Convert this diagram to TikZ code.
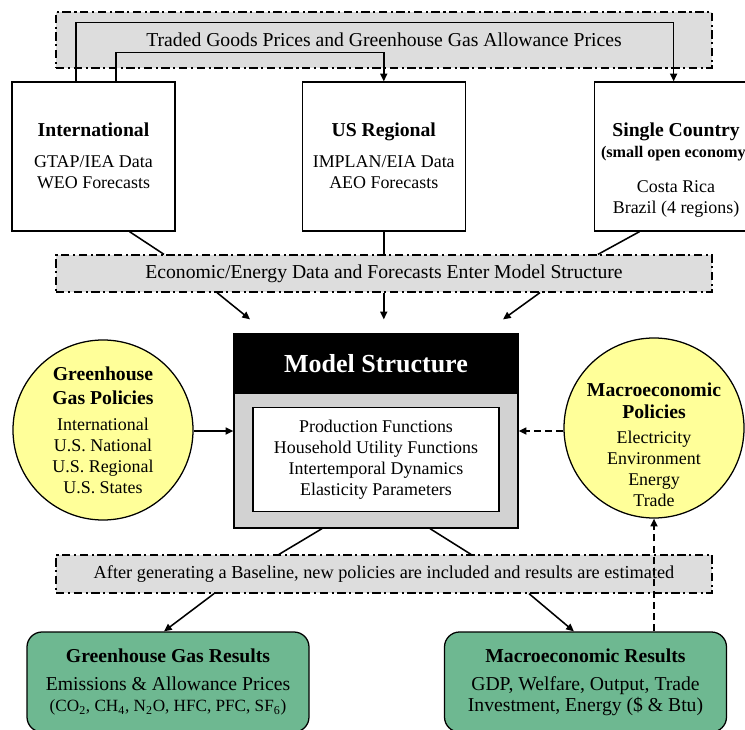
\documentclass[tikz,border=0pt]{standalone}
\usepackage{fontspec}
\setmainfont{Liberation Serif}
\usetikzlibrary{arrows.meta, positioning}

\definecolor{bandgray}{RGB}{221,221,221}
\definecolor{bodygray}{RGB}{210,210,210}
\definecolor{policyyellow}{RGB}{255,255,153}
\definecolor{resultgreen}{RGB}{110,184,145}

\newcommand{\hd}[1]{{\fontsize{14}{17}\selectfont\bfseries #1}}

\begin{document}
\begin{tikzpicture}[
        font=\fontsize{12.75}{15}\selectfont,
        band/.style={rectangle, draw, fill=bandgray, line width=0.9pt, dash pattern=on 6pt off 2.5pt on 1.5pt off 2.5pt, minimum width=16.4cm, align=center, font=\fontsize{14}{16}\selectfont},
        srcbox/.style={rectangle, draw, line width=0.9pt, fill=white, minimum width=4.075cm, minimum height=3.725cm},
        srctext/.style={align=center, inner sep=0pt},
        policy/.style={circle, draw, line width=0.9pt, fill=policyyellow, minimum size=4.5cm},
        polytext/.style={align=center, inner sep=0pt},
        resultbox/.style={rectangle, draw, rounded corners=0.375cm, line width=0.9pt, fill=resultgreen, minimum width=7.05cm, minimum height=2.5cm, align=center, font=\fontsize{14}{15}\selectfont},
        arrow/.style={-{Triangle[length=5.5pt,width=5pt]}, line width=1.1pt},
        link/.style={line width=1.1pt},
        dasharrow/.style={arrow, dash pattern=on 5pt off 3pt}
    ]

    \useasboundingbox (0,0) rectangle (18.625,-18.25);
    \clip (0,0) rectangle (18.625,-18.25);

    % Price band
    \node[band, minimum height=1.4cm] (prices) at (9.6,-1.0) {Traded Goods Prices and Greenhouse Gas Allowance Prices};

    % Data sources
    \node[srcbox] (intl) at (2.3375,-3.9125) {};
    \node[srcbox, right=3.15cm of intl] (usreg) {};
    \node[srcbox, right=3.2cm of usreg] (single) {};
    \node[srctext, below=1.025cm of intl.north] (intltext) {\hd{International}\\[7pt] GTAP/IEA Data\\ WEO Forecasts};
    \node[srctext, below=1.025cm of usreg.north] (usregtext) {\hd{US Regional}\\[7pt] IMPLAN/EIA Data\\ AEO Forecasts};
    \node[srctext, below=1.025cm of single.north] (singletext) {\hd{Single Country}\\ {\fontsize{11.5}{13}\selectfont\bfseries (small open economy)}\\[10pt] Costa Rica\\ Brazil (4 regions)};

    % Data band
    \node[band, minimum height=0.925cm] (enter) at (9.6,-6.8375) {Economic/Energy Data and Forecasts Enter Model Structure};

    % Model structure
    \node[rectangle, draw, line width=0.9pt, fill=bodygray, minimum width=7.1cm, minimum height=4.85cm] (model) at (9.4,-10.775) {};
    \node[rectangle, draw, fill=black, minimum width=7.1cm, minimum height=1.5cm, anchor=north, text=white, font=\fontsize{18.5}{22}\selectfont\bfseries] (header) at (model.north) {Model Structure};
    \node[rectangle, draw, fill=white, line width=0.9pt, minimum width=6.15cm, minimum height=2.6cm, below=0.325cm of header, align=center] (funcs) {Production Functions\\ Household Utility Functions\\ Intertemporal Dynamics\\ Elasticity Parameters};
    \coordinate[above=0.35cm of model.north] (modeltop);

    % Policies
    \node[policy] (ghgpol) at (2.575,-10.75) {};
    \node[polytext] (ghgtext) at (ghgpol) {\hd{Greenhouse}\\[2pt] \hd{Gas Policies}\\[3.5pt] International\\ U.S. National\\ U.S. Regional\\ U.S. States};
    \node[policy] (macpol) at (16.35,-10.7) {};
    \node[polytext, yshift=-0.425cm] (mactext) at (macpol) {\hd{Macroeconomic}\\[0.6pt] \hd{Policies}\\[2.8pt] Electricity\\ Environment\\ Energy\\ Trade};

    % Baseline band
    \node[band, minimum height=0.95cm, font=\fontsize{13}{15}\selectfont] (base) at (9.6,-14.35) {After generating a Baseline, new policies are included and results are estimated};

    % Results
    \node[resultbox] (ghgres) at (4.2,-17.05) {\hd{Greenhouse Gas Results}\\[5pt] Emissions \& Allowance Prices\\ {\fontsize{12.2}{15}\selectfont (CO\textsubscript{2}, CH\textsubscript{4}, N\textsubscript{2}O, HFC, PFC, SF\textsubscript{6})}};
    \node[resultbox] (macres) at (14.6375,-17.05) {\hd{Macroeconomic Results}\\[5pt] GDP, Welfare, Output, Trade\\ Investment, Energy (\$ \& Btu)};

    % Arrows
    \draw[arrow] ([xshift=-0.4375cm]intl.north) -- ++(0,1.475) -| ([xshift=-0.06cm]single.north);
    \draw[arrow] ([xshift=0.5625cm]intl.north) -- ++(0,0.725) -| (usreg.north);
    \draw[link] ([xshift=0.9cm]intl.south) -- ([xshift=-5.5cm]enter.north);
    \draw[link] (usreg.south) -- (usreg.south |- enter.north);
    \draw[link] ([xshift=-0.9125cm]single.south) -- ([xshift=5.35cm]enter.north);
    \draw[arrow] ([xshift=-4.175cm]enter.south) -- ([xshift=-3.15cm,yshift=0.35cm]model.north);
    \draw[arrow] (enter.south -| usreg.south) -- (modeltop -| usreg.south);
    \draw[arrow] ([xshift=3.9cm]enter.south) -- ([xshift=3.175cm,yshift=0.35cm]model.north);
    \draw[arrow] (model.west -| ghgpol.east) -- (model.west);
    \draw[dasharrow] (model.east -| macpol.west) -- (model.east);
    \draw[link] ([xshift=-1.35cm]model.south) -- ([xshift=-2.625cm]base.north);
    \draw[link] ([xshift=1.35cm]model.south) -- ([xshift=2.175cm]base.north);
    \draw[arrow] ([xshift=-4.25cm]base.south) -- ([xshift=-0.1cm]ghgres.north);
    \draw[arrow] ([xshift=3.625cm]base.south) -- ([xshift=-0.29cm]macres.north);
    \draw[dasharrow] (macres.north -| macpol.south) -- (macpol.south);

\end{tikzpicture}
\end{document}
